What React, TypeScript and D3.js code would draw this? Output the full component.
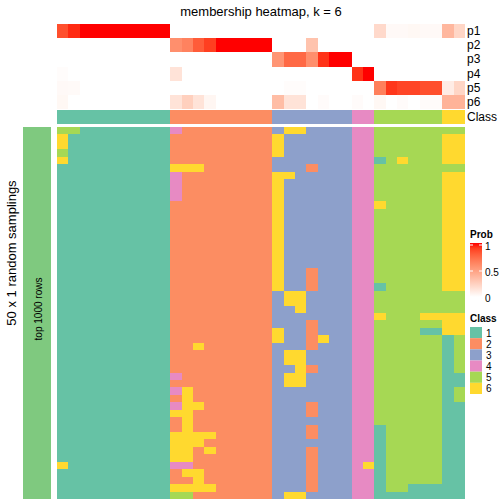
import React from "react";
import * as d3 from "d3";

const title = "membership heatmap, k = 6";
const probNames = ["p1", "p2", "p3", "p4", "p5", "p6"];
const classKeys = ["1", "2", "3", "4", "5", "6"];
const classColors = ["#66C2A5", "#FC8D62", "#8DA0CB", "#E78AC3", "#A6D854", "#FFD92F"];
const columnClass = "111111111122222222233333334455555566".split("");

const p1 = [0.85, 0.95, 1, 1, 1, 1, 1, 1, 1, 1, 0, 0, 0, 0, 0, 0, 0, 0, 0, 0, 0, 0, 0, 0, 0, 0, 0, 0, 0.2, 0.03, 0.03, 0.04, 0.03, 0.03, 0.38, 0.22];
const p2 = [0, 0, 0, 0, 0, 0, 0, 0, 0, 0, 0.58, 0.64, 0.8, 0.9, 1, 1, 1, 1, 1, 0, 0, 0, 0.32, 0, 0, 0, 0, 0, 0, 0, 0, 0, 0, 0, 0, 0];
const p3 = [0, 0, 0, 0, 0, 0, 0, 0, 0, 0, 0, 0, 0, 0, 0, 0, 0, 0, 0, 0.55, 0.75, 0.75, 0.58, 0.93, 1, 1, 0, 0, 0, 0, 0, 0, 0, 0, 0, 0];
const p4 = [0.015, 0, 0, 0, 0, 0, 0, 0, 0, 0, 0.15, 0, 0, 0, 0, 0, 0, 0, 0, 0, 0, 0, 0, 0, 0, 0, 0.93, 1, 0, 0, 0, 0, 0, 0, 0, 0];
const p5 = [0.03, 0.025, 0, 0, 0, 0, 0, 0, 0, 0, 0, 0, 0, 0, 0, 0, 0, 0, 0, 0, 0.015, 0.015, 0, 0, 0, 0, 0, 0, 0.65, 0.92, 0.88, 0.88, 0.85, 0.85, 0.1, 0.22];
const p6 = [0.04, 0, 0, 0, 0, 0, 0, 0, 0, 0, 0.15, 0.25, 0.15, 0.05, 0, 0, 0, 0, 0, 0.35, 0.15, 0.15, 0, 0.02, 0, 0, 0.02, 0, 0.04, 0, 0.02, 0, 0.02, 0.02, 0.4, 0.4];
const probRows = [p1, p2, p3, p4, p5, p6];

const samplingRows = [
  "551111111142222222236633334455555555",
  "611111111122222222263333334455555566",
  "611111111122222222263333334455555566",
  "511111111122222222263333334455555566",
  "611111111122222222233333334415655566",
  "111111111166622222233323334455555555",
  "111111111142222222266333334455555566",
  "111111111142222222263333334455555566",
  "111111111142222222263333334455555566",
  "111111111142222222263333334455555566",
  "111111111122222222263333334465555566",
  "111111111122222222263333334455555566",
  "111111111122222222263333334455555566",
  "111111111122222222263333334455555566",
  "111111111122222222263333334455555566",
  "111111111122222222263333334455555566",
  "111111111122222222263333334455555566",
  "111111111122222222263333334455555566",
  "111111111122222222263333334455555566",
  "111111111122222222263323334455555566",
  "111111111122222222263323334455555566",
  "111111111122222222263323334415555566",
  "111111111122222222236633334455555555",
  "111111111122222222236633334455555555",
  "111111111122222222233633334455555555",
  "111111111122222222233333334465556666",
  "111111111122222222233323334455555566",
  "111111111122222222263323334455551166",
  "111111111122222222263326334455555515",
  "111111111122622222233323334455555515",
  "111111111122222222236633334455555515",
  "111111111122222222236633334455555515",
  "111111111122222222233623334455555515",
  "111111111142222222236633334455555511",
  "111111111122222222236633334455555511",
  "111111111146222222233333334455555515",
  "111111111126222222233333334455555515",
  "111111111146622222233323334455555511",
  "111111111166222222233323334455555511",
  "111111111126222222233333334455555511",
  "111111111126222222233323334415555511",
  "111111111166662222233323334415555511",
  "111111111166622222233333334415555511",
  "111111111166262222233323334415555511",
  "111111111166222222233323334415555511",
  "611111111144222222233323334615555511",
  "111111111126622222233323334415555511",
  "111111111122622222233323334415555511",
  "111111111166662222233323334415511111",
  "111111111155222222236633334411111111",
];

const probTicks = [0, 0.5, 1];
const FONT = "'Liberation Sans', Arial, Helvetica, sans-serif";

export default function App() {
  const nCol = columnClass.length;
  const cols = d3.range(nCol);
  const x = d3.scaleBand<number>().domain(cols).range([57, 465]).padding(0);
  const yProb = d3.scaleBand<string>().domain(probNames).range([24, 109]).padding(0);
  const yMain = d3.scaleBand<number>().domain(d3.range(samplingRows.length)).range([127, 499]).padding(0);
  const classColor = d3.scaleOrdinal<string, string>().domain(classKeys).range(classColors);
  const probColor = d3.scaleLinear<string>().domain([0, 1]).range(["#FFFFFF", "#FF0000"]).interpolate(d3.interpolateLab);
  const classY = 110;
  const classH = 14;

  const legY = d3.scaleLinear().domain([0, 1]).range([297, 245]);
  const legendBox = d3.scaleBand<string>().domain(classKeys).range([327, 394]).padding(0);
  const gradStops = d3.range(0, 1.01, 0.1);

  return (
    <svg width={504} height={504} style={{ position: "absolute", left: 0, top: 0 }} fontFamily={FONT}>
      <defs>
        <linearGradient id="probGrad" x1="0" y1="1" x2="0" y2="0">
          {gradStops.map((s) => (
            <stop key={s} offset={`${s * 100}%`} stopColor={probColor(s)} />
          ))}
        </linearGradient>
      </defs>
      <rect width={504} height={504} fill="#FFFFFF" />
      <text x={261} y={16} textAnchor="middle" fontSize={13}>{title}</text>

      {probRows.map((row, ri) =>
        row.map((v, ci) => (
          <rect key={`p${ri}-${ci}`} x={x(ci)} y={yProb(probNames[ri])} width={x.bandwidth() + 0.3}
            height={yProb.bandwidth() + 0.3} fill={probColor(v)} shapeRendering="crispEdges" />
        ))
      )}
      {columnClass.map((c, ci) => (
        <rect key={`c${ci}`} x={x(ci)} y={classY} width={x.bandwidth() + 0.3} height={classH}
          fill={classColor(c)} shapeRendering="crispEdges" />
      ))}
      {probNames.map((n) => (
        <text key={n} x={467} y={(yProb(n) as number) + yProb.bandwidth() / 2} dominantBaseline="central" fontSize={12}>{n}</text>
      ))}
      <text x={467} y={classY + classH / 2} dominantBaseline="central" fontSize={12}>Class</text>

      {samplingRows.map((row, ri) =>
        row.split("").map((c, ci) => (
          <rect key={`m${ri}-${ci}`} x={x(ci)} y={yMain(ri)} width={x.bandwidth() + 0.3}
            height={yMain.bandwidth() + 0.3} fill={classColor(c)} shapeRendering="crispEdges" />
        ))
      )}

      <rect x={23} y={127} width={28} height={372} fill="#7FC97F" />
      <text transform={`translate(42,${309}) rotate(-90)`} textAnchor="middle" fontSize={10}>top 1000 rows</text>
      <text transform={`translate(16,${253}) rotate(-90)`} textAnchor="middle" fontSize={13}>50 x 1 random samplings</text>

      <text x={470} y={238} fontSize={10} fontWeight="bold">Prob</text>
      <rect x={470} y={243} width={12} height={54} fill="url(#probGrad)" />
      {probTicks.map((t) => (
        <g key={t}>
          <line x1={470} x2={473} y1={legY(t)} y2={legY(t)} stroke="#FFFFFF" strokeWidth={1} />
          <line x1={479} x2={482} y1={legY(t)} y2={legY(t)} stroke="#FFFFFF" strokeWidth={1} />
          <text x={485} y={legY(t) + 1} dominantBaseline="central" fontSize={10}>{String(t)}</text>
        </g>
      ))}

      <text x={470} y={322} fontSize={10} fontWeight="bold">Class</text>
      {classKeys.map((k) => (
        <g key={k}>
          <rect x={470} y={legendBox(k)} width={12} height={legendBox.bandwidth()} fill={classColor(k)} />
          <text x={486} y={(legendBox(k) as number) + legendBox.bandwidth() / 2 + 0.5} dominantBaseline="central" fontSize={10}>{k}</text>
        </g>
      ))}
    </svg>
  );
}
